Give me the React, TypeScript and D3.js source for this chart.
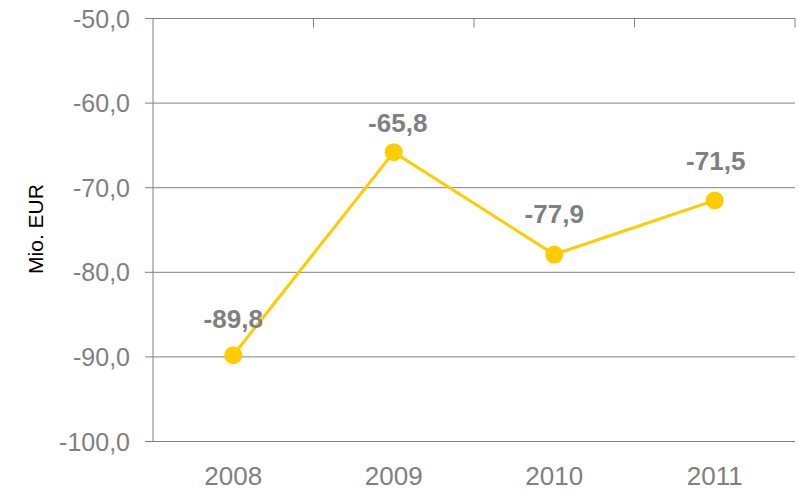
import * as d3 from 'd3'
import React from 'react'

const years = ['2008', '2009', '2010', '2011']
const values = [-89.8, -65.8, -77.9, -71.5]
const yTicks = [-50, -60, -70, -80, -90, -100]
// hand-nudged label offsets (dx, dy) like the original
const labelDx = [0, 4, 0, 1]
const labelDy = [-27, -20, -32, -30]

const W = 798
const H = 492
const left = 153
const right = 795
const top = 18.5
const bottom = 441.5

const fmt = (v: number) => v.toFixed(1).replace('.', ',')

export default function App() {
  const x = d3.scaleBand<string>().domain(years).range([left, right])
  const y = d3.scaleLinear().domain([-100, -50]).range([bottom, top])
  const line = d3.line<number>()
    .x((d, i) => x(years[i])! + x.bandwidth() / 2)
    .y(d => y(d))

  const grey = '#808080'
  const font = '"Liberation Sans", Arial, sans-serif'

  return (
    <svg width={W} height={H} style={{ position: 'absolute', left: 0, top: 0 }} fontFamily={font}>
      {yTicks.map(t => (
        <g key={t}>
          <line x1={145} x2={right} y1={y(t)} y2={y(t)} stroke={grey} strokeWidth={1} />
          <text x={130} y={y(t)} dy="0.36em" textAnchor="end" fontSize={25} fill={grey}>{fmt(t)}</text>
        </g>
      ))}
      <line x1={left} x2={left} y1={top} y2={bottom} stroke={grey} strokeWidth={1} />
      {years.map((yr, i) => (
        <line key={'t' + yr} x1={x(yr)! + x.bandwidth()} x2={x(yr)! + x.bandwidth()} y1={top} y2={top + 9} stroke={grey} strokeWidth={1} />
      ))}
      {years.map(yr => (
        <text key={'x' + yr} x={x(yr)! + x.bandwidth() / 2} y={485} textAnchor="middle" fontSize={26} fill={grey}>{yr}</text>
      ))}
      <text transform={`translate(43,229) rotate(-90)`} textAnchor="middle" fontSize={21} fill="#000">Mio. EUR</text>
      <path d={line(values) ?? ''} fill="none" stroke="#FFCC00" strokeWidth={3} />
      {values.map((v, i) => (
        <circle key={'c' + i} cx={x(years[i])! + x.bandwidth() / 2} cy={y(v)} r={9} fill="#FFCC00" />
      ))}
      {values.map((v, i) => (
        <text key={'l' + i} x={x(years[i])! + x.bandwidth() / 2 + labelDx[i]} y={y(v) + labelDy[i]} textAnchor="middle"
          fontSize={26} fontWeight="bold" fill={grey}>{fmt(v)}</text>
      ))}
    </svg>
  )
}
